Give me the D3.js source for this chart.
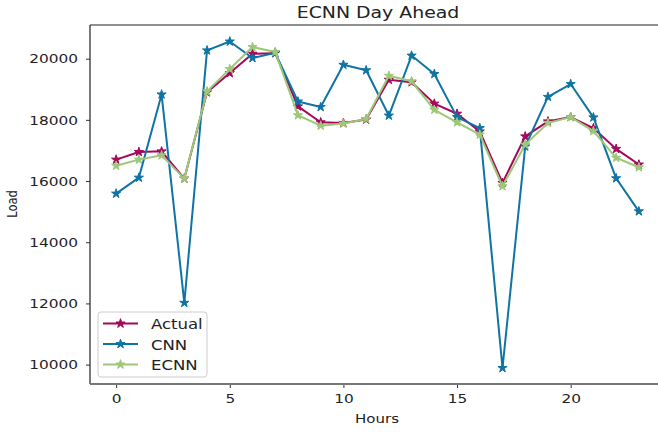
<!DOCTYPE html>
<html>
<head>
<meta charset="utf-8">
<script src="https://cdn.jsdelivr.net/npm/d3@7"></script>
<style>
  body { margin: 0; background: #fff; overflow: hidden; }
  svg { display: block; }
  text { font-family: "DejaVu Sans", sans-serif; fill: #222; }
</style>
</head>
<body>
<div id="chart"></div>
<script>
const hours = d3.range(0, 24);
const actual = [16700, 16950, 16970, 16080, 18900, 19530, 20160, 20180, 18440, 17920, 17900, 18010,
                19310, 19230, 18530, 18200, 17620, 15940, 17460, 17950, 18090, 17730, 17050, 16540];
const cnn = [15590, 16110, 18830, 12020, 20270, 20560, 20020, 20190, 18600, 18420, 19800, 19620,
             18140, 20100, 19500, 18090, 17730, 9890, 17130, 18750, 19170, 18080, 16090, 15010];
const ecnn = [16500, 16700, 16840, 16080, 18930, 19660, 20380, 20220, 18150, 17810, 17880, 18030,
              19440, 19260, 18330, 17920, 17520, 15830, 17190, 17900, 18090, 17630, 16760, 16450];
const yTicks = [10000, 12000, 14000, 16000, 18000, 20000];
const xTicks = [0, 5, 10, 15, 20];

const series = [
  {name: "Actual", values: actual, color: "#a3085b"},
  {name: "CNN", values: cnn, color: "#0f74a3"},
  {name: "ECNN", values: ecnn, color: "#9dc878"}
];

// the picture is a little wider than tall, so text is stretched sideways
const sx = 1.18;

const width = 658, height = 433;
const margin = {top: 25, right: -7, bottom: 49, left: 90};
const w = width - margin.left - margin.right;
const h = height - margin.top - margin.bottom;

const svg = d3.select("#chart").append("svg")
    .attr("width", width)
    .attr("height", height);

const g = svg.append("g")
    .attr("transform", `translate(${margin.left},${margin.top})`);

const x = d3.scaleLinear().domain([-1.15, 24.15]).range([0, w]);
const y = d3.scaleLinear().domain([9367, 21100]).range([h, 0]);

// axes
const xAxis = g.append("g")
    .attr("transform", `translate(0,${h})`)
    .call(d3.axisBottom(x).tickValues(xTicks).tickSize(4).tickPadding(6));
const yAxis = g.append("g")
    .call(d3.axisLeft(y).tickValues(yTicks).tickFormat(d3.format("d")).tickSize(4).tickPadding(8));

[xAxis, yAxis].forEach(a => {
  a.selectAll("text")
    .style("font-size", "13px").style("fill", "#222").style("font-family", "DejaVu Sans, sans-serif")
    .attr("x", function() { return (+d3.select(this).attr("x") || 0) / sx; })
    .attr("transform", `scale(${sx},1)`);
  a.selectAll(".tick line").attr("stroke", "#333");
});
xAxis.select(".domain").remove();
yAxis.select(".domain").remove();

// frame (right spine falls just outside the picture)
g.append("line").attr("x1", 0).attr("x2", w).attr("y1", 0).attr("y2", 0)
  .attr("stroke", "#222").attr("stroke-width", 1.2);
g.append("line").attr("x1", 0).attr("x2", 0).attr("y1", 0).attr("y2", h)
  .attr("stroke", "#222").attr("stroke-width", 1.2);
g.append("line").attr("x1", 0).attr("x2", w).attr("y1", h).attr("y2", h)
  .attr("stroke", "#777").attr("stroke-width", 2);

const line = d3.line()
    .x((d, i) => x(hours[i]))
    .y(d => y(d));

const star = d3.symbol().type(d3.symbolStar).size(26);

series.forEach(s => {
  g.append("path")
    .datum(s.values)
    .attr("fill", "none")
    .attr("stroke", s.color)
    .attr("stroke-width", 2)
    .attr("stroke-linejoin", "round")
    .attr("d", line);

  g.selectAll(null)
    .data(s.values)
    .join("path")
    .attr("transform", (d, i) => `translate(${x(hours[i])},${y(d)})`)
    .attr("d", star)
    .attr("fill", s.color)
    .attr("stroke", s.color)
    .attr("stroke-width", 1);
});

// legend
const lg = svg.append("g").attr("transform", "translate(98,312)");
lg.append("rect")
  .attr("width", 109).attr("height", 65).attr("rx", 3)
  .attr("fill", "#fff").attr("fill-opacity", 0.8)
  .attr("stroke", "#ccc");
series.forEach((s, i) => {
  const yy = 11.5 + i * 20.5;
  lg.append("line").attr("x1", 5).attr("x2", 40).attr("y1", yy).attr("y2", yy)
    .attr("stroke", s.color).attr("stroke-width", 2);
  lg.append("path").attr("transform", `translate(22.5,${yy})`).attr("d", star)
    .attr("fill", s.color).attr("stroke", s.color).attr("stroke-width", 1);
  lg.append("text").attr("transform", `translate(53,${yy + 5.5}) scale(${sx},1)`)
    .style("font-size", "14px").text(s.name);
});

// title and labels
svg.append("text")
  .attr("transform", `translate(378,18) scale(${sx},1)`)
  .attr("text-anchor", "middle")
  .style("font-size", "16px")
  .text("ECNN Day Ahead");

svg.append("text")
  .attr("transform", `translate(377,423) scale(${sx},1)`)
  .attr("text-anchor", "middle")
  .style("font-size", "12.7px")
  .text("Hours");

svg.append("text")
  .attr("transform", `translate(16.5,204) rotate(-90) scale(1,${sx})`)
  .attr("text-anchor", "middle")
  .style("font-size", "11.5px")
  .text("Load");
</script>
</body>
</html>
